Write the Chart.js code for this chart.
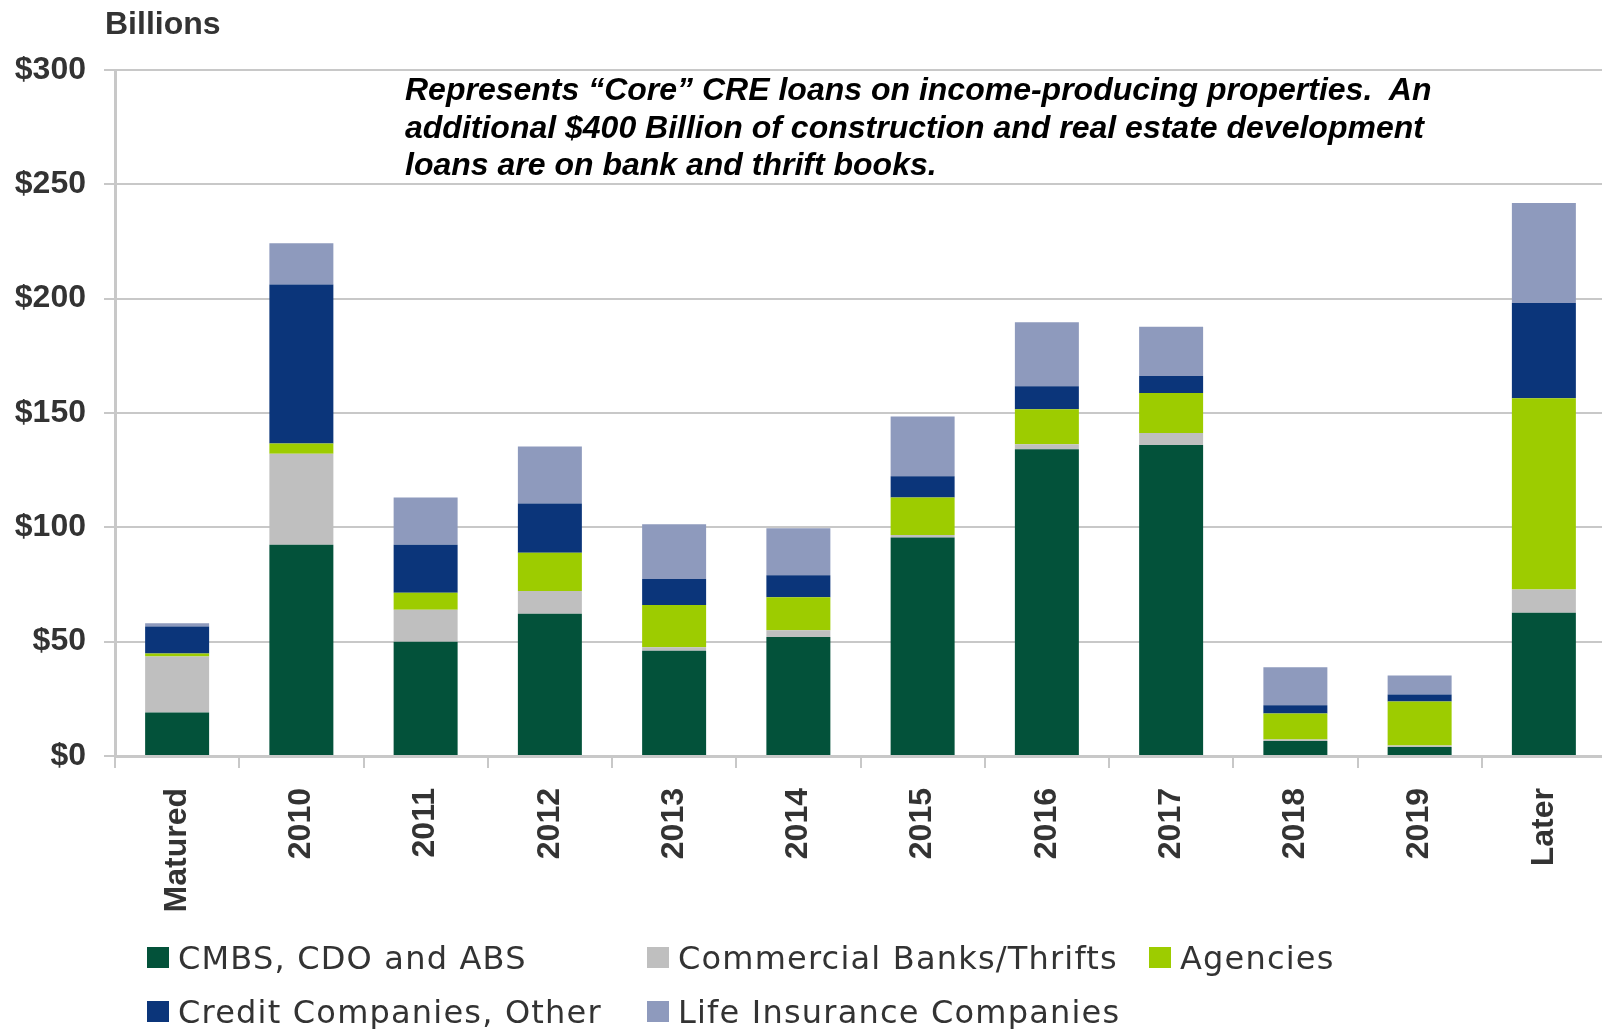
<!DOCTYPE html>
<html>
<head>
<meta charset="utf-8">
<title>CRE loan maturities</title>
<script src="https://cdn.jsdelivr.net/npm/chart.js@4.4.1/dist/chart.umd.min.js"></script>
<style>
    html, body {
        margin: 0;
        padding: 0;
        background: #ffffff;
        width: 1602px;
        height: 1029px;
        overflow: hidden;
        position: relative;
    }
    #loanChart {
        position: absolute;
        left: 0;
        top: 0;
    }
    .unit {
        position: absolute;
        left: 105px;
        top: 7px;
        font: bold 32px "Liberation Sans", Arial, sans-serif;
        line-height: 32px;
        color: #333333;
    }
    .note {
        position: absolute;
        left: 405px;
        top: 71px;
        font: italic bold 32px "Liberation Sans", Arial, sans-serif;
        line-height: 37.5px;
        color: #000000;
        white-space: pre;
    }
    .legend-item {
        position: absolute;
        font: 32px "DejaVu Sans", sans-serif;
        letter-spacing: 1.2px;
        line-height: 32px;
        color: #333333;
        white-space: nowrap;
    }
    .legend-item span.box {
        position: absolute;
        left: -31px;
        top: 5px;
        width: 22px;
        height: 21px;
    }
</style>
</head>
<body>
<canvas id="loanChart" width="1609" height="1029"></canvas>
<div class="unit">Billions</div>
<div class="note">Represents “Core” CRE loans on income-producing properties.  An
additional $400 Billion of construction and real estate development
loans are on bank and thrift books.</div>
<div id="legend"></div>

<script>
const categories = ['Matured', '2010', '2011', '2012', '2013', '2014', '2015', '2016', '2017', '2018', '2019', 'Later'];

// $ billions maturing, by lender type
const cmbs = [19, 92.4, 50, 62.2, 46, 52, 95.6, 134.1, 136, 6.6, 3.9, 62.7];
const banks = [24.5, 39.8, 14, 10, 1.6, 3, 1, 2.2, 5.2, 0.6, 0.7, 10.1];
const agencies = [1.3, 4.5, 7.4, 16.7, 18.4, 14.4, 16.5, 15.3, 17.5, 11.4, 19.2, 83.7];
const credit = [11.8, 69.5, 21, 21.5, 11.4, 9.6, 9.2, 10.1, 7.5, 3.6, 3.1, 41.6];
const life = [1.4, 18, 20.6, 25, 24, 20.6, 26.2, 28, 21.5, 16.6, 8.3, 43.7];

const yMax = 300;
const yStep = 50;

const series = [
    { label: 'CMBS, CDO and ABS', data: cmbs, color: '#03523a' },
    { label: 'Commercial Banks/Thrifts', data: banks, color: '#bfbfbf' },
    { label: 'Agencies', data: agencies, color: '#9dcc00' },
    { label: 'Credit Companies, Other', data: credit, color: '#0b357a' },
    { label: 'Life Insurance Companies', data: life, color: '#8e9abd' }
];

const tickFont = { family: '"Liberation Sans", Arial, sans-serif', size: 32, weight: 'bold' };
const gridColor = '#c8c8c8';

const chart = new Chart(document.getElementById('loanChart'), {
    type: 'bar',
    data: {
        labels: categories,
        datasets: series.map((s) => ({
            label: s.label,
            data: s.data,
            backgroundColor: s.color,
            borderWidth: 0,
            barPercentage: 0.515,
            categoryPercentage: 1
        }))
    },
    options: {
        responsive: false,
        animation: false,
        layout: {
            padding: { top: 70, right: 3, bottom: 0, left: 0 }
        },
        plugins: {
            legend: { display: false },
            tooltip: { enabled: false }
        },
        scales: {
            x: {
                stacked: true,
                afterFit: (scale) => { scale.height = 1029 - 756; },
                grid: {
                    drawOnChartArea: false,
                    drawTicks: true,
                    tickLength: 12,
                    color: gridColor,
                    lineWidth: 2
                },
                border: { color: gridColor, width: 3 },
                ticks: {
                    minRotation: 90,
                    maxRotation: 90,
                    padding: 20,
                    color: '#333333',
                    font: tickFont
                }
            },
            y: {
                stacked: true,
                min: 0,
                max: yMax,
                afterFit: (scale) => { scale.width = 115; },
                grid: {
                    color: gridColor,
                    lineWidth: 2,
                    tickLength: 11
                },
                border: { color: gridColor, width: 3 },
                ticks: {
                    stepSize: yStep,
                    padding: 18,
                    color: '#333333',
                    font: tickFont,
                    callback: (value) => '$' + value
                }
            }
        }
    }
});

// two-row legend laid out in fixed columns under the axis labels
const legendSpots = [
    { x: 178, y: 942 },
    { x: 678, y: 942 },
    { x: 1180, y: 942 },
    { x: 178, y: 996 },
    { x: 678, y: 996 }
];
const legend = document.getElementById('legend');
series.forEach((s, i) => {
    const item = document.createElement('div');
    item.className = 'legend-item';
    item.style.left = legendSpots[i].x + 'px';
    item.style.top = legendSpots[i].y + 'px';
    const box = document.createElement('span');
    box.className = 'box';
    box.style.background = s.color;
    item.appendChild(box);
    item.appendChild(document.createTextNode(s.label));
    legend.appendChild(item);
});
</script>
</body>
</html>
